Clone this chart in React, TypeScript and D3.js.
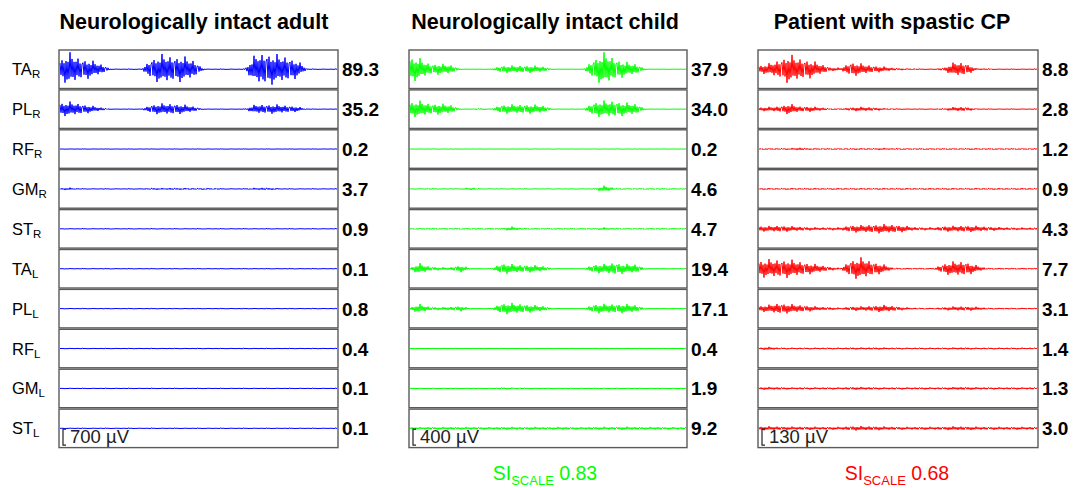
import React from "react";
import * as d3 from "d3";

// ---------- data ----------
const muscles = ["TA", "PL", "RF", "GM", "ST", "TA", "PL", "RF", "GM", "ST"];
const sides = ["R", "R", "R", "R", "R", "L", "L", "L", "L", "L"];

const groupTitles = ["Neurologically intact adult", "Neurologically intact child", "Patient with spastic CP"];
const groupColors = ["#0000ff", "#00ff00", "#ff0000"];
const scaleBars = ["700 µV", "400 µV", "130 µV"];
const siLabels = [null, "0.83", "0.68"];

// relative stride durations (3 gait cycles per subject)
const strideAdult = [89, 101, 89];
const strideChild = [89, 90, 99];
const stridePatient = [96, 86, 98];

// per-muscle numbers at right
const valuesAdult = [89.3, 35.2, 0.2, 3.7, 0.9, 0.1, 0.8, 0.4, 0.1, 0.1];
const valuesChild = [37.9, 34.0, 0.2, 4.6, 4.7, 19.4, 17.1, 0.4, 1.9, 9.2];
const valuesPatient = [8.8, 2.8, 1.2, 0.9, 4.3, 7.7, 3.1, 1.4, 1.3, 3.0];

// EMG envelopes (peak amplitude, 0..10 = half trace height), 28 samples across the 3 strides
const envAdult = [
  [5, 9, 6, 5, 3, 0.3, 0.3, 0.3, 0.3, 6, 8, 7, 7, 5, 0.3, 0.3, 0.3, 0.3, 0.3, 8, 9, 8, 7, 5, 0.3, 0.3, 0.3, 0.3],
  [3.5, 4, 3, 2, 1, 0.2, 0.2, 0.2, 0.2, 2.5, 3, 3, 2.5, 1.5, 0.2, 0.2, 0.2, 0.2, 0.2, 2.5, 2.5, 2.5, 2, 1.5, 0.2, 0.2, 0.2, 0.2],
  [0.2, 0.2, 0.2, 0.2, 0.2, 0.2, 0.2, 0.2, 0.2, 0.2, 0.2, 0.2, 0.2, 0.2, 0.2, 0.2, 0.2, 0.2, 0.2, 0.2, 0.2, 0.2, 0.2, 0.2, 0.2, 0.2, 0.2, 0.2],
  [0.5, 0.7, 0.3, 0.3, 0.3, 0.3, 0.3, 0.3, 0.3, 0.6, 0.5, 0.6, 0.5, 0.5, 0.5, 0.4, 0.3, 0.3, 0.3, 0.6, 0.7, 0.5, 0.3, 0.3, 0.3, 0.3, 0.3, 0.3],
  [0.3, 0.3, 0.3, 0.3, 0.3, 0.3, 0.3, 0.3, 0.3, 0.3, 0.3, 0.3, 0.3, 0.3, 0.3, 0.3, 0.3, 0.3, 0.3, 0.3, 0.3, 0.3, 0.3, 0.3, 0.3, 0.3, 0.3, 0.3],
  [0.3, 0.3, 0.3, 0.3, 0.3, 0.3, 0.3, 0.3, 0.3, 0.3, 0.3, 0.3, 0.3, 0.3, 0.3, 0.3, 0.3, 0.3, 0.3, 0.3, 0.3, 0.3, 0.3, 0.3, 0.3, 0.3, 0.3, 0.3],
  [0.3, 0.3, 0.3, 0.3, 0.3, 0.3, 0.3, 0.3, 0.3, 0.3, 0.3, 0.3, 0.3, 0.3, 0.3, 0.3, 0.3, 0.3, 0.3, 0.3, 0.3, 0.3, 0.3, 0.3, 0.3, 0.3, 0.3, 0.3],
  [0.3, 0.3, 0.3, 0.3, 0.3, 0.3, 0.3, 0.3, 0.3, 0.3, 0.3, 0.3, 0.3, 0.3, 0.3, 0.3, 0.3, 0.3, 0.3, 0.3, 0.3, 0.3, 0.3, 0.3, 0.3, 0.3, 0.3, 0.3],
  [0.3, 0.3, 0.3, 0.3, 0.3, 0.3, 0.3, 0.3, 0.3, 0.3, 0.3, 0.3, 0.3, 0.3, 0.3, 0.3, 0.3, 0.3, 0.3, 0.3, 0.3, 0.3, 0.3, 0.3, 0.3, 0.3, 0.3, 0.3],
  [0.3, 0.3, 0.3, 0.3, 0.3, 0.3, 0.3, 0.3, 0.3, 0.3, 0.3, 0.3, 0.3, 0.3, 0.3, 0.3, 0.3, 0.3, 0.3, 0.3, 0.3, 0.3, 0.3, 0.3, 0.3, 0.3, 0.3, 0.3],
];

const envChild = [
  [7, 6, 3, 3, 2.5, 0.2, 0.2, 0.2, 0.2, 2, 2, 2, 2, 1.5, 0.2, 0.2, 0.2, 0.2, 6, 9, 6, 4, 3, 0.2, 0.2, 0.2, 0.2, 0.2],
  [4, 4.5, 3, 3, 2.5, 0.2, 0.2, 0.6, 0.2, 2.5, 2.5, 2.5, 2.5, 2, 0.2, 0.2, 0.2, 0.2, 4, 4.5, 4.5, 3.5, 3, 0.2, 0.2, 0.2, 0.2, 0.2],
  [0.2, 0.2, 0.2, 0.2, 0.2, 0.2, 0.2, 0.2, 0.2, 0.2, 0.2, 0.2, 0.2, 0.2, 0.2, 0.2, 0.2, 0.2, 0.2, 0.2, 0.2, 0.2, 0.2, 0.2, 0.2, 0.2, 0.2, 0.2],
  [0.3, 0.3, 0.4, 0.3, 0.3, 0.3, 0.8, 0.3, 0.3, 0.3, 0.3, 0.3, 0.3, 0.3, 0.3, 0.3, 0.3, 0.3, 0.3, 1.8, 0.5, 0.4, 0.4, 0.4, 0.4, 0.4, 0.4, 0.3],
  [0.4, 0.4, 0.4, 0.4, 0.4, 0.4, 0.4, 0.4, 0.4, 0.4, 1.2, 0.4, 0.4, 0.4, 0.4, 0.4, 0.4, 0.4, 0.4, 0.8, 0.4, 0.4, 0.4, 0.4, 0.4, 0.4, 0.4, 0.3],
  [0.3, 3, 1.2, 0.8, 0.8, 2, 0.2, 0.2, 0.2, 3, 2.5, 2, 2, 1.5, 0.2, 0.2, 0.2, 0.2, 2.5, 2.5, 3.5, 2.5, 2.5, 0.2, 0.2, 0.2, 0.2, 0.2],
  [0.5, 2.5, 1, 0.8, 1, 1.5, 0.2, 0.2, 0.2, 3, 3, 2.5, 2, 1.5, 0.2, 0.2, 0.2, 0.2, 2.5, 2.5, 2.5, 2.5, 2, 0.2, 0.2, 0.2, 0.2, 0.2],
  [0.2, 0.2, 0.2, 0.2, 0.2, 0.2, 0.2, 0.2, 0.2, 0.2, 0.2, 0.2, 0.2, 0.2, 0.2, 0.2, 0.2, 0.2, 0.2, 0.2, 0.2, 0.2, 0.2, 0.2, 0.2, 0.2, 0.2, 0.2],
  [0.3, 0.3, 0.3, 0.3, 0.3, 0.3, 0.3, 0.3, 0.3, 0.6, 0.5, 0.4, 0.3, 0.3, 0.3, 0.3, 0.3, 0.3, 0.3, 0.4, 0.3, 0.3, 0.3, 0.3, 0.3, 0.3, 0.3, 0.3],
  [0.8, 0.7, 0.8, 0.7, 0.8, 0.7, 0.8, 0.7, 0.7, 0.8, 0.8, 0.7, 0.8, 0.7, 0.7, 0.8, 0.7, 0.7, 0.8, 0.8, 0.8, 0.9, 0.8, 0.7, 0.8, 0.7, 0.7, 0.7],
];

const envPatient = [
  [2, 3, 5, 8, 6, 5, 3, 1, 0.8, 4, 3, 2, 1.5, 0.8, 0.5, 0.4, 0.3, 0.3, 1, 4, 3.5, 0.6, 0.5, 0.3, 0.3, 0.3, 0.3, 0.3],
  [1, 1.2, 1.5, 3, 1.5, 1.5, 1, 0.4, 0.4, 1, 1.2, 1, 0.6, 0.4, 0.3, 0.3, 0.3, 0.3, 0.5, 1.2, 1.2, 0.4, 0.3, 0.3, 0.3, 0.3, 0.3, 0.3],
  [0.4, 0.4, 0.5, 0.5, 0.8, 0.5, 0.4, 0.4, 0.4, 0.5, 0.5, 0.5, 0.6, 0.5, 0.4, 0.4, 0.4, 0.4, 0.4, 0.4, 0.5, 0.5, 0.4, 0.4, 0.4, 0.4, 0.4, 0.4],
  [0.5, 0.5, 0.5, 0.5, 0.5, 0.5, 0.5, 0.5, 0.5, 0.5, 0.5, 0.5, 0.5, 0.5, 0.5, 0.5, 0.5, 0.5, 0.5, 0.5, 0.5, 0.5, 0.5, 0.5, 0.5, 0.5, 0.5, 0.5],
  [1.5, 1.5, 1.8, 1.5, 1.2, 0.9, 0.8, 0.8, 0.8, 2, 2, 2.3, 2.5, 2.3, 1.8, 1, 0.8, 0.8, 1.5, 1.6, 1.8, 1.6, 1.2, 1, 0.8, 0.7, 0.7, 0.7],
  [4.5, 5, 5, 5, 4, 3, 2, 1, 0.4, 5, 6, 4, 2.5, 0.5, 0.4, 0.4, 0.4, 0.4, 3, 4, 4, 2, 0.4, 0.4, 0.4, 0.4, 0.4, 0.4],
  [1.5, 2, 3, 2.5, 2, 1.5, 1, 0.8, 0.5, 1.2, 1.2, 1.5, 2, 1.5, 0.8, 0.5, 0.4, 0.4, 0.8, 1.2, 1.2, 1, 0.5, 0.4, 0.4, 0.4, 0.4, 0.4],
  [0.5, 0.9, 0.5, 0.5, 0.5, 0.5, 0.5, 0.5, 0.5, 0.6, 0.6, 0.6, 0.6, 0.5, 0.5, 0.5, 0.5, 0.5, 0.5, 0.6, 0.6, 0.5, 0.5, 0.5, 0.5, 0.5, 0.5, 0.5],
  [0.7, 0.8, 0.7, 0.6, 0.6, 0.6, 0.6, 0.6, 0.6, 0.8, 0.8, 0.7, 0.6, 0.6, 0.6, 0.6, 0.6, 0.6, 0.6, 0.8, 0.8, 0.7, 0.6, 0.6, 0.6, 0.6, 0.6, 0.6],
  [1, 1.1, 1, 0.9, 0.9, 0.9, 0.8, 0.8, 0.8, 1.2, 1.2, 1.1, 1, 0.9, 0.8, 0.8, 0.8, 0.8, 0.9, 1.1, 1, 0.9, 0.8, 0.8, 0.8, 0.8, 0.8, 0.8],
];

// ---------- layout / style ----------
const W = 1075;
const H = 488;
const panelBoxes = [
  { left: 59, right: 338 },
  { left: 409, right: 687 },
  { left: 758, right: 1038 },
];
const titleCenters = [194, 545, 892];
const siCenters = [0, 545, 897];
const rowTop0 = 50;
const rowPitch = 39.9;
const rowH = 38.5;
const FONT = "'Liberation Sans', Arial, sans-serif";
// visual texture of the raw EMG trace (rendering style only)
const carrier = [0.6, -0.5, 0.75, -0.55, 0.45, -0.95, 0.55, -0.65, 0.45, -0.55, 1, -0.45, 0.65, -0.5, 0.5, -0.75, 0.55, -0.45, 0.85, -0.6, 0.5, -0.7, 0.45];

const strides = [strideAdult, strideChild, stridePatient];
const values = [valuesAdult, valuesChild, valuesPatient];
const envs = [envAdult, envChild, envPatient];

function tracePath(env: number[], left: number, right: number, top: number) {
  const xIdx = d3.scaleLinear().domain([0, env.length - 1]).range([left, right]);
  const y = d3.scaleLinear().domain([-10, 10]).range([top + rowH, top]).clamp(true);
  const interp = d3.scaleLinear().domain(env.map((_, i) => i)).range(env);
  const pts: [number, number][] = [];
  let k = 0;
  for (let px = left + 1; px <= right - 1; px += 1) {
    const a = interp(xIdx.invert(px));
    pts.push([px, y(a * carrier[k % carrier.length])]);
    k++;
  }
  return d3.line()(pts) || "";
}

function Panel({ p }: { p: number }) {
  const { left, right } = panelBoxes[p];
  const color = groupColors[p];
  const st = strides[p];
  const total = d3.sum(st);
  const xs = d3.scaleLinear().domain([0, total]).range([left, right]);
  const cum = d3.cumsum(st);
  return (
    <g>
      <text x={titleCenters[p]} y={29} textAnchor="middle" fontFamily={FONT} fontWeight="bold" fontSize={21.5} fill="#000">
        {groupTitles[p]}
      </text>
      {muscles.map((m, i) => {
        const top = rowTop0 + i * rowPitch;
        return (
          <g key={i}>
            <path d={tracePath(envs[p][i], left, right, top)} fill="none" stroke={color} strokeWidth={1} />
            <rect x={left} y={top} width={right - left} height={rowH} fill="none" stroke="#5a5a5a" strokeWidth={1.4} />
            {cum.slice(0, -1).map((c, j) => (
              <line key={j} x1={xs(c)} x2={xs(c)} y1={top} y2={top + rowH} stroke="#5a5a5a" strokeWidth={1.4} />
            ))}
            <text x={right + 4} y={top + rowH / 2 + 7} fontFamily={FONT} fontWeight="bold" fontSize={19} fill="#000">
              {values[p][i].toFixed(1)}
            </text>
          </g>
        );
      })}
      {(() => {
        const top = rowTop0 + 9 * rowPitch;
        const bx = left + 4;
        return (
          <g>
            <path d={`M${bx + 3},${top + 20} H${bx} V${top + 36} H${bx + 3}`} fill="none" stroke="#222" strokeWidth={1.2} />
            <text x={bx + 7} y={top + 34} fontFamily={FONT} fontSize={18.5} fill="#222">
              {scaleBars[p]}
            </text>
          </g>
        );
      })()}
      {siLabels[p] && (
        <text x={siCenters[p]} y={480} textAnchor="middle" fontFamily={FONT} fontSize={19.5} fill={color}>
          SI
          <tspan fontSize={13} dy={4.5}>SCALE</tspan>
          <tspan dy={-4.5}> {siLabels[p]}</tspan>
        </text>
      )}
    </g>
  );
}

export default function App() {
  return (
    <svg width={W} height={H} style={{ position: "absolute", left: 0, top: 0, background: "#fff" }}>
      <rect width={W} height={H} fill="#fff" />
      {muscles.map((m, i) => (
        <text key={i} x={12} y={rowTop0 + i * rowPitch + rowH / 2 + 6} fontFamily={FONT} fontSize={16.5} fill="#000">
          {m}
          <tspan fontSize={11.5} dy={3}>{sides[i]}</tspan>
        </text>
      ))}
      {[0, 1, 2].map((p) => (
        <Panel key={p} p={p} />
      ))}
    </svg>
  );
}
